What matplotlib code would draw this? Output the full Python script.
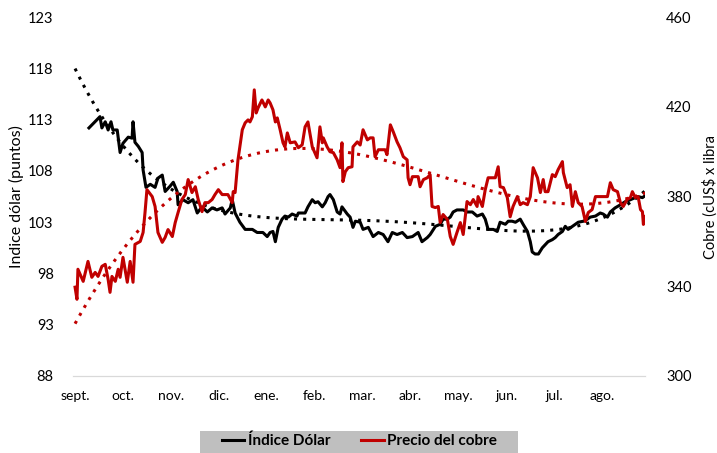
import matplotlib.pyplot as plt
from matplotlib.lines import Line2D
from matplotlib.patches import Rectangle
import numpy as np

# meses desde el 1 de septiembre (fraccion de mes)
meses = ['sept.', 'oct.', 'nov.', 'dic.', 'ene.', 'feb.', 'mar.', 'abr.', 'may.', 'jun.', 'jul.', 'ago.']

# Indice Dolar (puntos)
dolar_x = [0.29, 0.52, 0.56, 0.63, 0.69, 0.75, 0.79, 0.88, 0.94, 1.00, 1.11, 1.19, 1.21, 1.25, 1.32, 1.40,
           1.42, 1.48, 1.57, 1.67, 1.73, 1.82, 1.88, 1.98, 2.05, 2.13, 2.15, 2.25, 2.36, 2.46, 2.55, 2.65,
           2.76, 2.86, 2.96, 3.07, 3.13, 3.24, 3.28, 3.34, 3.44, 3.55, 3.70, 3.80, 3.92, 4.01, 4.07, 4.13,
           4.18, 4.24, 4.32, 4.38, 4.45, 4.53, 4.63, 4.66, 4.80, 4.86, 4.95, 5.01, 5.07, 5.16, 5.22, 5.28,
           5.32, 5.39, 5.47, 5.53, 5.57, 5.68, 5.74, 5.80, 5.85, 5.95, 6.01, 6.12, 6.22, 6.33, 6.43, 6.53,
           6.62, 6.72, 6.83, 6.93, 7.04, 7.16, 7.24, 7.35, 7.41, 7.52, 7.62, 7.68, 7.77, 7.83, 7.89, 7.97,
           8.10, 8.18, 8.29, 8.39, 8.50, 8.56, 8.62, 8.73, 8.81, 8.87, 8.98, 9.04, 9.12, 9.19, 9.29, 9.35,
           9.44, 9.50, 9.54, 9.60, 9.67, 9.75, 9.81, 9.87, 9.96, 10.02, 10.08, 10.17, 10.23, 10.29, 10.38,
           10.44, 10.50, 10.61, 10.69, 10.75, 10.86, 10.96, 11.02, 11.11, 11.17, 11.27, 11.38, 11.48, 11.59,
           11.69, 11.75, 11.84, 11.90]
dolar = [112.2, 113.3, 112.2, 112.8, 112.0, 112.8, 112.0, 112.0, 109.8, 110.7, 111.3, 111.2, 112.8, 110.8, 110.4, 109.8,
         108.1, 106.4, 106.7, 106.4, 107.3, 107.6, 106.0, 106.5, 106.9, 106.0, 104.7, 105.2, 104.9, 105.2, 103.9, 104.5,
         104.0, 104.4, 104.2, 104.4, 103.8, 104.4, 105.2, 103.9, 103.0, 102.3, 102.3, 102.0, 102.0, 101.6, 102.0, 102.1,
         101.1, 102.5, 103.3, 103.6, 103.5, 103.8, 103.6, 103.9, 103.9, 104.5, 105.2, 104.9, 105.0, 104.5, 104.9, 105.5,
         105.7, 105.2, 104.0, 103.8, 104.5, 103.8, 103.5, 102.5, 103.1, 103.0, 102.3, 102.5, 101.6, 102.0, 101.8, 101.1,
         102.0, 101.8, 102.0, 101.5, 101.6, 102.0, 101.1, 101.5, 101.8, 102.6, 102.8, 103.3, 103.3, 103.5, 104.0, 104.2,
         104.2, 104.0, 104.0, 103.6, 103.8, 103.3, 102.3, 102.3, 102.1, 103.0, 102.8, 103.1, 103.1, 103.0, 103.3, 102.8,
         102.1, 101.1, 100.1, 99.9, 99.9, 100.5, 100.8, 101.1, 101.3, 101.5, 101.8, 102.1, 102.6, 102.3, 102.6,
         102.8, 103.0, 103.1, 103.3, 103.5, 103.6, 103.9, 103.8, 103.5, 104.0, 104.4, 104.7, 105.0, 105.2,
         105.4, 105.5, 105.4, 105.6]

# Precio del cobre (cUS$ x libra)
cobre_x = [0.00, 0.04, 0.06, 0.17, 0.27, 0.35, 0.42, 0.48, 0.56, 0.63, 0.69, 0.73, 0.77, 0.84, 0.90, 0.94,
           1.00, 1.09, 1.15, 1.21, 1.25, 1.36, 1.42, 1.46, 1.50, 1.61, 1.67, 1.73, 1.82, 1.88, 1.94, 2.03,
           2.09, 2.15, 2.23, 2.30, 2.36, 2.44, 2.51, 2.57, 2.65, 2.71, 2.78, 2.86, 2.92, 2.99, 3.07, 3.19,
           3.28, 3.30, 3.34, 3.40, 3.49, 3.55, 3.61, 3.65, 3.70, 3.74, 3.78, 3.82, 3.90, 3.97, 4.03, 4.07,
           4.13, 4.18, 4.22, 4.28, 4.34, 4.38, 4.43, 4.49, 4.59, 4.66, 4.74, 4.80, 4.86, 4.95, 5.05, 5.11,
           5.16, 5.18, 5.26, 5.32, 5.39, 5.47, 5.53, 5.57, 5.59, 5.64, 5.70, 5.78, 5.80, 5.89, 5.95, 6.01,
           6.10, 6.16, 6.22, 6.26, 6.33, 6.47, 6.51, 6.58, 6.64, 6.72, 6.78, 6.85, 6.93, 6.95, 6.99, 7.04,
           7.16, 7.20, 7.27, 7.35, 7.41, 7.45, 7.52, 7.58, 7.62, 7.68, 7.77, 7.83, 7.89, 7.97, 8.04, 8.10,
           8.18, 8.25, 8.31, 8.39, 8.41, 8.50, 8.56, 8.62, 8.71, 8.77, 8.83, 8.87, 8.94, 9.02, 9.08, 9.14,
           9.23, 9.29, 9.35, 9.44, 9.50, 9.56, 9.65, 9.71, 9.77, 9.81, 9.87, 9.96, 10.02, 10.08, 10.17, 10.19,
           10.27, 10.33, 10.38, 10.44, 10.50, 10.58, 10.65, 10.71, 10.79, 10.86, 10.92, 11.00, 11.11, 11.17,
           11.23, 11.32, 11.38, 11.44, 11.52, 11.59, 11.63, 11.69, 11.75, 11.80, 11.84, 11.86, 11.90]
cobre = [339.6, 334.2, 347.6, 342.2, 351.1, 344.0, 346.2, 344.4, 348.9, 349.8, 343.1, 337.3, 344.4, 342.2, 347.6, 344.0,
         352.9, 341.8, 351.1, 341.8, 358.7, 360.0, 364.0, 372.9, 383.1, 380.0, 375.6, 364.0, 359.6, 361.8, 365.3, 362.2,
         368.4, 372.9, 378.7, 380.9, 387.6, 381.8, 384.4, 378.7, 373.3, 377.3, 377.3, 378.7, 380.9, 383.1, 380.9, 380.9,
         377.3, 382.2, 381.8, 396.4, 409.8, 412.9, 414.2, 413.3, 415.6, 427.6, 417.3, 419.6, 423.1, 420.0, 423.1, 421.8,
         418.7, 413.3, 415.1, 409.8, 404.0, 402.2, 408.4, 404.0, 404.4, 401.8, 403.1, 411.1, 413.3, 402.2, 397.3, 411.1,
         404.0, 406.2, 402.2, 400.0, 399.6, 396.4, 392.9, 404.0, 386.7, 391.1, 392.9, 393.3, 402.2, 404.4, 403.0, 409.8,
         405.3, 406.2, 406.2, 397.8, 400.9, 400.9, 398.7, 412.0, 408.9, 404.4, 401.8, 397.8, 396.4, 388.4, 385.3, 388.9,
         388.9, 384.4, 387.6, 388.4, 389.8, 375.6, 375.1, 375.6, 368.4, 372.0, 369.8, 362.2, 358.7, 364.0, 368.4, 363.1,
         377.8, 376.4, 378.7, 375.6, 380.0, 375.6, 383.1, 388.4, 388.4, 388.4, 393.3, 384.4, 384.0, 379.6, 371.0, 375.6,
         380.0, 376.4, 377.3, 376.4, 380.0, 392.9, 388.4, 381.8, 387.6, 382.2, 382.2, 389.8, 388.9, 392.0, 395.6, 390.7,
         384.0, 385.3, 375.6, 382.2, 377.3, 375.6, 368.9, 372.9, 374.2, 380.0, 380.0, 380.0, 380.0, 386.2,
         383.1, 382.2, 377.3, 375.6, 378.7, 379.6, 382.2, 379.6, 380.0, 374.2, 373.3, 367.6, 371.1]

plt.rcParams['font.family'] = ['Lato', 'DejaVu Sans']

fig = plt.figure(figsize=(7.17, 4.53), dpi=100)
ax = fig.add_axes([0.102, 0.170, 0.798, 0.792])
ax2 = ax.twinx()

negro = '#000000'
rojo = '#C00000'

# lineas de tendencia (polinomicas, como en Excel)
xt = np.linspace(0, 11.9, 200)
pd_ = np.polyfit(dolar_x, dolar, 4)
pc_ = np.polyfit(cobre_x, cobre, 3)

ax.plot(dolar_x, dolar, color=negro, lw=2.2, zorder=3)
ax.plot(xt, np.polyval(pd_, xt), color=negro, lw=2.2, ls=(0, (1, 2)), zorder=2)
ax2.plot(cobre_x, cobre, color=rojo, lw=2.2, zorder=3)
ax2.plot(xt, np.polyval(pc_, xt), color=rojo, lw=2.2, ls=(0, (1, 2)), zorder=2)

ax.set_xlim(-0.04, 11.9)
ax.set_ylim(88, 123)
ax.set_yticks(np.arange(88, 124, 5))
ax2.set_ylim(300, 460)
ax2.set_yticks(np.arange(300, 461, 40))
ax.set_xticks(range(12))
ax.set_xticklabels(meses)

for a in (ax, ax2):
    for s in ['top', 'left', 'right']:
        a.spines[s].set_visible(False)
    a.spines['bottom'].set_color('#D9D9D9')
    a.tick_params(length=0, labelsize=10.5, colors='#000000')
ax.tick_params(axis='y', pad=14)
ax2.tick_params(axis='y', pad=15)
ax.tick_params(axis='x', pad=10, labelsize=10)

ax.set_ylabel('Indice dólar (puntos)', fontsize=11.5, labelpad=3)
ax2.set_ylabel('Cobre (cUS$ x libra', fontsize=10.5, labelpad=8)

# fondo gris de la leyenda
fig.patches.append(Rectangle((200 / 717, 0), 318 / 717, 22 / 453, transform=fig.transFigure,
                             facecolor='#BFBFBF', edgecolor='none', zorder=0))
h = [Line2D([], [], color=negro, lw=2.2), Line2D([], [], color=rojo, lw=2.2)]
leg = fig.legend(h, ['Índice Dólar', 'Precio del cobre'], loc='center', bbox_to_anchor=(359 / 717, 1 - 441 / 453),
                 ncol=2, frameon=False, handlelength=1.5, handletextpad=0.2, columnspacing=2.0,
                 prop={'weight': 'bold', 'size': 11})

fig.savefig('out.png', dpi=100)
